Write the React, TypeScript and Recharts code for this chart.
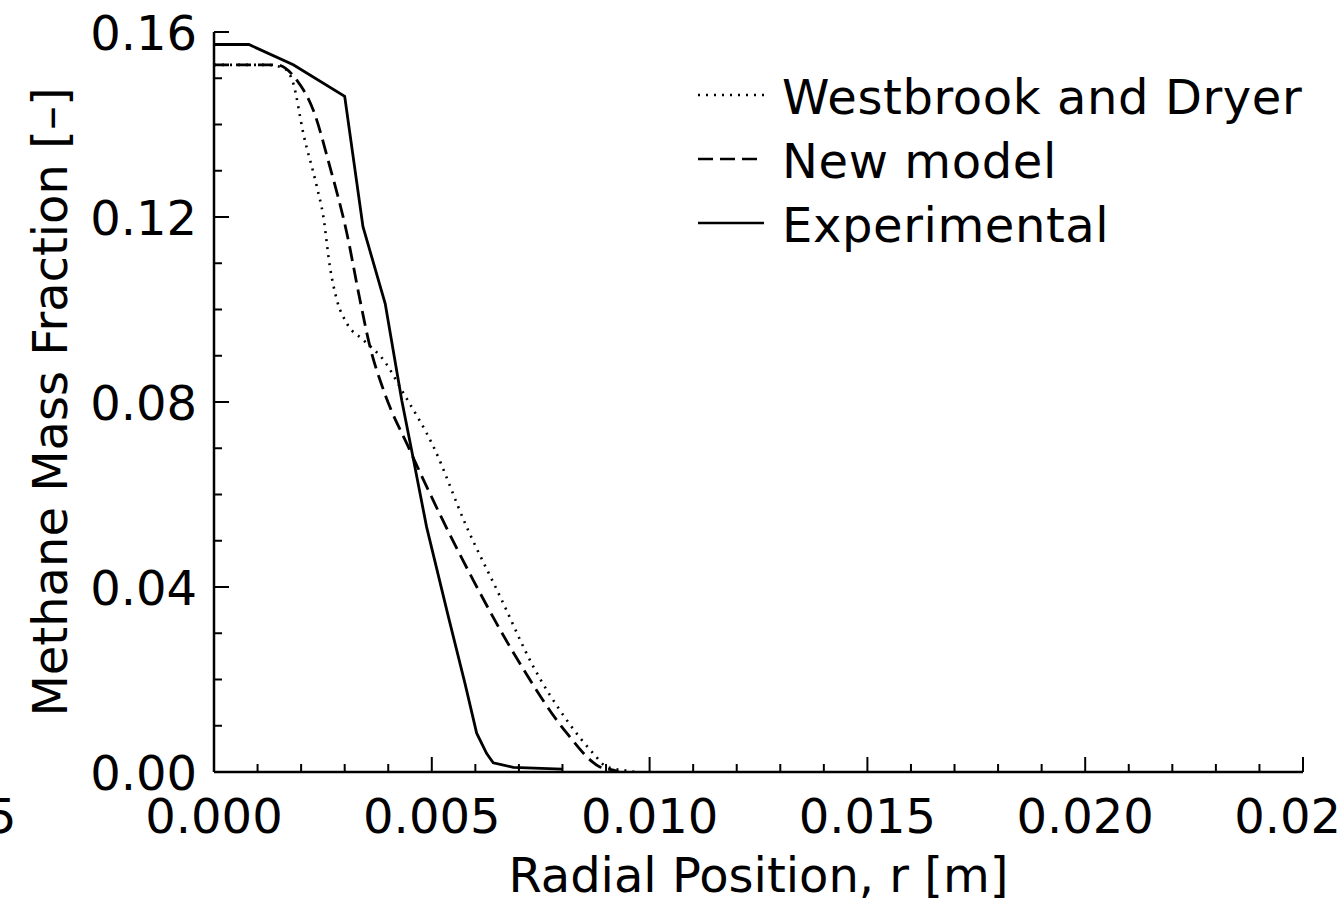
import React from "react";
import { LineChart, Line, XAxis, YAxis, Legend } from "recharts";

// methane mass fraction vs radial position
const westbrookData = [
  { r: 0, y: 0.1529 },
  { r: 0.0012, y: 0.1529 },
  { r: 0.0016, y: 0.1522 },
  { r: 0.00182, y: 0.1489 },
  { r: 0.00205, y: 0.1381 },
  { r: 0.00236, y: 0.1266 },
  { r: 0.00251, y: 0.1201 },
  { r: 0.00266, y: 0.1093 },
  { r: 0.00282, y: 0.1021 },
  { r: 0.00305, y: 0.097 },
  { r: 0.00343, y: 0.0934 },
  { r: 0.00389, y: 0.0891 },
  { r: 0.00435, y: 0.0819 },
  { r: 0.00503, y: 0.0705 },
  { r: 0.0058, y: 0.053 },
  { r: 0.00657, y: 0.0379 },
  { r: 0.00733, y: 0.0228 },
  { r: 0.0081, y: 0.0112 },
  { r: 0.00871, y: 0.004 },
  { r: 0.00902, y: 0.0011 },
  { r: 0.00947, y: 0.0003 },
  { r: 0.0097, y: 0 },
];

const newModelData = [
  { r: 0, y: 0.1529 },
  { r: 0.00144, y: 0.1529 },
  { r: 0.0019, y: 0.1496 },
  { r: 0.00228, y: 0.1431 },
  { r: 0.00266, y: 0.1309 },
  { r: 0.00305, y: 0.1165 },
  { r: 0.00335, y: 0.1021 },
  { r: 0.00358, y: 0.092 },
  { r: 0.00389, y: 0.0826 },
  { r: 0.0045, y: 0.0695 },
  { r: 0.00595, y: 0.0415 },
  { r: 0.00702, y: 0.0235 },
  { r: 0.0081, y: 0.0084 },
  { r: 0.00886, y: 0.0011 },
  { r: 0.00917, y: 0.0004 },
  { r: 0.0093, y: 0 },
];

const experimentalData = [
  { r: 0, y: 0.1573 },
  { r: 0.0008, y: 0.1573 },
  { r: 0.00182, y: 0.1529 },
  { r: 0.003, y: 0.1461 },
  { r: 0.00342, y: 0.1179 },
  { r: 0.00393, y: 0.1013 },
  { r: 0.00431, y: 0.0804 },
  { r: 0.00458, y: 0.0675 },
  { r: 0.00488, y: 0.053 },
  { r: 0.00538, y: 0.0336 },
  { r: 0.00576, y: 0.0192 },
  { r: 0.00603, y: 0.0084 },
  { r: 0.00626, y: 0.004 },
  { r: 0.00641, y: 0.002 },
  { r: 0.00687, y: 0.001 },
  { r: 0.008, y: 0.0006 },
];

const xTicks = [
  0, 0.001, 0.002, 0.003, 0.004, 0.005, 0.006, 0.007, 0.008, 0.009, 0.01,
  0.011, 0.012, 0.013, 0.014, 0.015, 0.016, 0.017, 0.018, 0.019, 0.02,
  0.021, 0.022, 0.023, 0.024, 0.025,
];
const xLabels = ["0.000", "0.005", "0.010", "0.015", "0.020", "0.025"];

const yTicks = [
  0, 0.01, 0.02, 0.03, 0.04, 0.05, 0.06, 0.07, 0.08, 0.09, 0.1, 0.11, 0.12,
  0.13, 0.14, 0.15, 0.16,
];
const yLabels = ["0.00", "0.04", "0.08", "0.12", "0.16"];

const FONT = "'DejaVu Sans', 'Liberation Sans', sans-serif";
const MAJOR = 15;
const MINOR = 8;
const DOTS = "2 6";
const DASHES = "15 7";

const xLabelFor = (v: number) => xLabels.find((l) => Math.abs(parseFloat(l) - v) < 1e-9);
const yLabelFor = (v: number) => yLabels.find((l) => Math.abs(parseFloat(l) - v) < 1e-9);

const BottomTick = (props: any) => {
  const { x, y, payload } = props;
  const label = xLabelFor(payload.value);
  const len = label ? MAJOR : MINOR;
  return (
    <g>
      <line x1={x} x2={x} y1={y} y2={y - len} stroke="#000" strokeWidth={2} />
      {label && (
        <text x={x} y={y + 44} textAnchor="middle" dominantBaseline="central" fontSize={48} fontFamily={FONT} fill="#000">
          {label}
        </text>
      )}
    </g>
  );
};

const TopTick = (props: any) => {
  const { x, y, payload } = props;
  const len = xLabelFor(payload.value) ? MAJOR : MINOR;
  return <line x1={x} x2={x} y1={y} y2={y + len} stroke="#000" strokeWidth={2} />;
};

const LeftTick = (props: any) => {
  const { x, y, payload } = props;
  const label = yLabelFor(payload.value);
  const len = label ? MAJOR : MINOR;
  return (
    <g>
      <line x1={x} x2={x + len} y1={y} y2={y} stroke="#000" strokeWidth={2} />
      {label && (
        <text x={x - 17} y={y + 1} textAnchor="end" dominantBaseline="central" fontSize={48} fontFamily={FONT} fill="#000">
          {label}
        </text>
      )}
    </g>
  );
};

const RightTick = (props: any) => {
  const { x, y, payload } = props;
  const len = yLabelFor(payload.value) ? MAJOR : MINOR;
  return <line x1={x} x2={x - len} y1={y} y2={y} stroke="#000" strokeWidth={2} />;
};

const XTitle = (props: any) => {
  const { viewBox } = props;
  return (
    <text x={viewBox.x + viewBox.width / 2} y={875} textAnchor="middle" dominantBaseline="central" fontSize={48} fontFamily={FONT} fill="#000">
      Radial Position, r [m]
    </text>
  );
};

const YTitle = (props: any) => {
  const { viewBox } = props;
  const cy = viewBox.y + viewBox.height / 2;
  return (
    <text x={50} y={cy} transform={`rotate(-90 50 ${cy})`} textAnchor="middle" dominantBaseline="central" fontSize={48} fontFamily={FONT} fill="#000">
      Methane Mass Fraction [–]
    </text>
  );
};

const legendItems = [
  { name: "Westbrook and Dryer", dash: DOTS },
  { name: "New model", dash: DASHES },
  { name: "Experimental", dash: undefined },
];

const renderLegend = () => (
  <svg width={620} height={180} style={{ overflow: "visible" }}>
    {legendItems.map((it, i) => {
      const cy = 28 + i * 64;
      return (
        <g key={it.name}>
          <line x1={0} x2={66} y1={cy} y2={cy} stroke="#000" strokeWidth={2.5} strokeDasharray={it.dash} />
          <text x={84} y={cy + 2} dominantBaseline="central" fontSize={48} fontFamily={FONT} fill="#000" letterSpacing={0.6}>
            {it.name}
          </text>
        </g>
      );
    })}
  </svg>
);

export default function App() {
  return (
    <div style={{ position: "absolute", left: 0, top: 0, width: 1341, height: 903, background: "#fff", overflow: "hidden" }}>
      <LineChart width={1341} height={903} margin={{ top: 32, right: 38, bottom: 0, left: 0 }}>
        <XAxis
          dataKey="r"
          type="number"
          domain={[0, 0.025]}
          ticks={xTicks}
          interval={0}
          allowDataOverflow
          height={131}
          tickSize={0}
          tickMargin={0}
          tickLine={false}
          axisLine={{ stroke: "#000", strokeWidth: 2.5 }}
          tick={<BottomTick />}
          label={<XTitle />}
        />
        <XAxis
          xAxisId="top"
          orientation="top"
          dataKey="r"
          type="number"
          domain={[0, 0.025]}
          ticks={xTicks}
          interval={0}
          height={0}
          tickSize={0}
          tickMargin={0}
          tickLine={false}
          axisLine={{ stroke: "#000", strokeWidth: 2.5 }}
          tick={<TopTick />}
        />
        <YAxis
          type="number"
          domain={[0, 0.16]}
          ticks={yTicks}
          interval={0}
          allowDataOverflow
          width={214}
          tickSize={0}
          tickMargin={0}
          tickLine={false}
          axisLine={{ stroke: "#000", strokeWidth: 2.5 }}
          tick={<LeftTick />}
          label={<YTitle />}
        />
        <YAxis
          yAxisId="right"
          orientation="right"
          type="number"
          domain={[0, 0.16]}
          ticks={yTicks}
          interval={0}
          width={0}
          tickSize={0}
          tickMargin={0}
          tickLine={false}
          axisLine={{ stroke: "#000", strokeWidth: 2.5 }}
          tick={<RightTick />}
        />
        <Legend
          layout="horizontal"
          verticalAlign="middle"
          align="center"
          content={renderLegend}
          wrapperStyle={{ position: "absolute", left: 698, top: 67, width: 620, height: 180 }}
        />
        <Line
          data={westbrookData}
          dataKey="y"
          name="Westbrook and Dryer"
          type="monotone"
          stroke="#000"
          strokeWidth={2.6}
          strokeDasharray={DOTS}
          dot={false}
          activeDot={false}
          isAnimationActive={false}
        />
        <Line
          data={newModelData}
          dataKey="y"
          name="New model"
          type="monotone"
          stroke="#000"
          strokeWidth={2.8}
          strokeDasharray={DASHES}
          dot={false}
          activeDot={false}
          isAnimationActive={false}
        />
        <Line
          data={experimentalData}
          dataKey="y"
          name="Experimental"
          type="linear"
          stroke="#000"
          strokeWidth={2.8}
          dot={false}
          activeDot={false}
          isAnimationActive={false}
        />
      </LineChart>
      <div style={{ position: "absolute", left: -14, top: 788, fontFamily: FONT, fontSize: 48, lineHeight: "56px" }}>5</div>
    </div>
  );
}
